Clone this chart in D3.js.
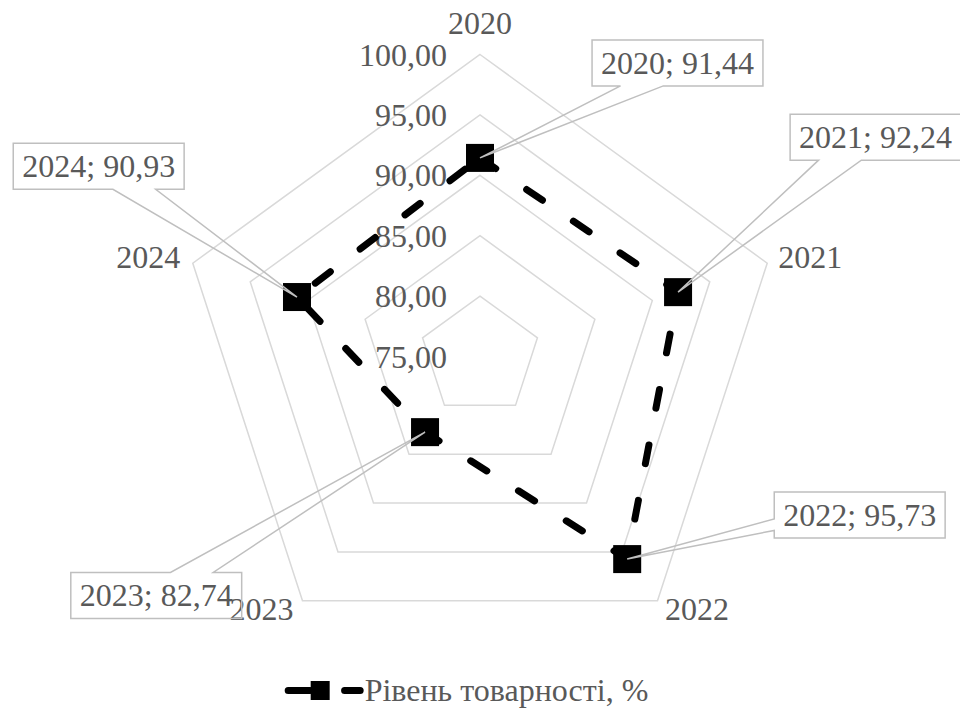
<!DOCTYPE html>
<html>
<head>
<meta charset="utf-8">
<script src="https://cdn.jsdelivr.net/npm/d3@7"></script>
<style>
  html, body { margin: 0; padding: 0; background: #fff; }
  svg { display: block; }
</style>
</head>
<body>
<svg id="chart" width="960" height="710"></svg>
<script>
// ---- data ----
const categories = ["2020", "2021", "2022", "2023", "2024"];
const values = [91.44, 92.24, 95.73, 82.74, 90.93];
const tickValues = [75, 80, 85, 90, 95, 100];
const tickLabels = ["75,00", "80,00", "85,00", "90,00", "95,00", "100,00"];
const seriesName = "Рівень товарності, %";

// ---- layout (manual data-label placement, offsets of box centre from point) ----
const labelOffsets = [[197.5, -95], [197.5, -155], [232.5, -44], [-268.8, 163.3], [-198.3, -130.7]];

const W = 960, H = 710;
const cx = 480, cy = 356.5, R = 302;
const FONT = "'Liberation Serif', 'Times New Roman', serif";
const FS = 32;
const TEXT = "#595959";
const GRID = "#d9d9d9";
const BOX = "#bfbfbf";

const svg = d3.select("#chart");

const r = d3.scaleLinear().domain([75, 100]).range([0, R]);
const angle = d3.scalePoint().domain(categories).range([0, 2 * Math.PI * (categories.length - 1) / categories.length]);

function pt(cat, v) {
  const a = angle(cat), rr = r(v);
  return [cx + rr * Math.sin(a), cy - rr * Math.cos(a)];
}

// gridlines (pentagons)
const gGrid = svg.append("g");
tickValues.filter(t => t > 75).forEach(t => {
  const pts = categories.map(c => pt(c, t));
  gGrid.append("path")
    .attr("d", d3.line()(pts) + "Z")
    .attr("fill", "none")
    .attr("stroke", GRID)
    .attr("stroke-width", 1.5);
});

// tick labels
svg.append("g").selectAll("text").data(tickValues).join("text")
  .attr("x", cx - 33)
  .attr("y", d => cy - r(d) + 11)
  .attr("text-anchor", "end")
  .attr("font-family", FONT)
  .attr("font-size", FS)
  .attr("fill", TEXT)
  .text((d, i) => tickLabels[i]);

// category labels
svg.append("g").selectAll("text").data(categories).join("text")
  .each(function (c) {
    const a = angle(c);
    const [vx, vy] = pt(c, 100);
    const s = Math.sin(a), co = Math.cos(a);
    const sel = d3.select(this);
    if (Math.abs(s) < 0.1) {
      sel.attr("x", vx).attr("y", vy - 21).attr("text-anchor", "middle");
    } else {
      const dx = s > 0 ? (co > 0 ? 11 : 7.5) : (co > 0 ? -12.5 : -9);
      const dy = co > 0 ? 5 : 19;
      sel.attr("x", vx + dx).attr("y", vy + dy).attr("text-anchor", s > 0 ? "start" : "end");
    }
  })
  .attr("font-family", FONT)
  .attr("font-size", FS)
  .attr("fill", TEXT)
  .text(c => c);

// series line
const pts = categories.map((c, i) => pt(c, values[i]));
svg.append("path")
  .attr("d", d3.line()(pts.concat([pts[0]])))
  .attr("fill", "none")
  .attr("stroke", "#000")
  .attr("stroke-width", 7)
  .attr("stroke-linecap", "round")
  .attr("stroke-linejoin", "round")
  .attr("stroke-dasharray", "19 37.4");

// markers
const MS = 28;
svg.append("g").selectAll("rect").data(pts).join("rect")
  .attr("x", d => d[0] - MS / 2)
  .attr("y", d => d[1] - MS / 2)
  .attr("width", MS)
  .attr("height", MS)
  .attr("fill", "#000");

// data label callouts
const fmt = d3.format(".2f");
const gLab = svg.append("g");
categories.forEach((c, i) => {
  const [px, py] = pts[i];
  const label = c + "; " + fmt(values[i]).replace(".", ",");
  const t = gLab.append("text")
    .attr("font-family", FONT)
    .attr("font-size", FS)
    .attr("fill", TEXT)
    .attr("text-anchor", "middle")
    .text(label);
  const tw = t.node().getComputedTextLength();
  const w = tw + 18, h = 46;
  const bcx = px + labelOffsets[i][0], bcy = py + labelOffsets[i][1];
  const x0 = bcx - w / 2, y0 = bcy - h / 2;
  t.attr("x", bcx).attr("y", y0 + 34);
  const dxPos = px - bcx, dyPos = py - bcy;
  let d;
  if (Math.abs(dxPos * h) > Math.abs(dyPos * w)) {
    const y1 = y0 + h * (dyPos > 0 ? 7 : 2) / 12, y2 = y0 + h * (dyPos > 0 ? 10 : 5) / 12;
    if (dxPos < 0) {
      d = `M${x0},${y0}H${x0 + w}V${y0 + h}H${x0}V${y2}L${px},${py}L${x0},${y1}Z`;
    } else {
      d = `M${x0},${y0}H${x0 + w}V${y1}L${px},${py}L${x0 + w},${y2}V${y0 + h}H${x0}Z`;
    }
  } else {
    const x1 = x0 + w * (dxPos > 0 ? 7 : 2) / 12, x2 = x0 + w * (dxPos > 0 ? 10 : 5) / 12;
    if (dyPos < 0) {
      d = `M${x0},${y0}H${x1}L${px},${py}L${x2},${y0}H${x0 + w}V${y0 + h}H${x0}Z`;
    } else {
      d = `M${x0},${y0}H${x0 + w}V${y0 + h}H${x2}L${px},${py}L${x1},${y0 + h}H${x0}Z`;
    }
  }
  gLab.insert("path", "text")
    .attr("d", d)
    .attr("fill", "none")
    .attr("stroke", BOX)
    .attr("stroke-width", 1.5);
});

// legend
const gLeg = svg.append("g");
const lt = gLeg.append("text")
  .attr("font-family", FONT)
  .attr("font-size", FS)
  .attr("fill", TEXT)
  .text(seriesName);
const ltw = lt.node().getComputedTextLength();
const legStart = 466.5 - (80 + ltw) / 2;
const ly = 690.5;
gLeg.append("line")
  .attr("x1", legStart + 3.5).attr("x2", legStart + 75.5)
  .attr("y1", ly).attr("y2", ly)
  .attr("stroke", "#000")
  .attr("stroke-width", 7)
  .attr("stroke-linecap", "round")
  .attr("stroke-dasharray", "22 34.4");
gLeg.append("rect")
  .attr("x", legStart + 35.5 - 9.5).attr("y", ly - 9.5)
  .attr("width", 19).attr("height", 19)
  .attr("fill", "#000");
lt.attr("x", legStart + 80).attr("y", 700.5);
</script>
</body>
</html>
